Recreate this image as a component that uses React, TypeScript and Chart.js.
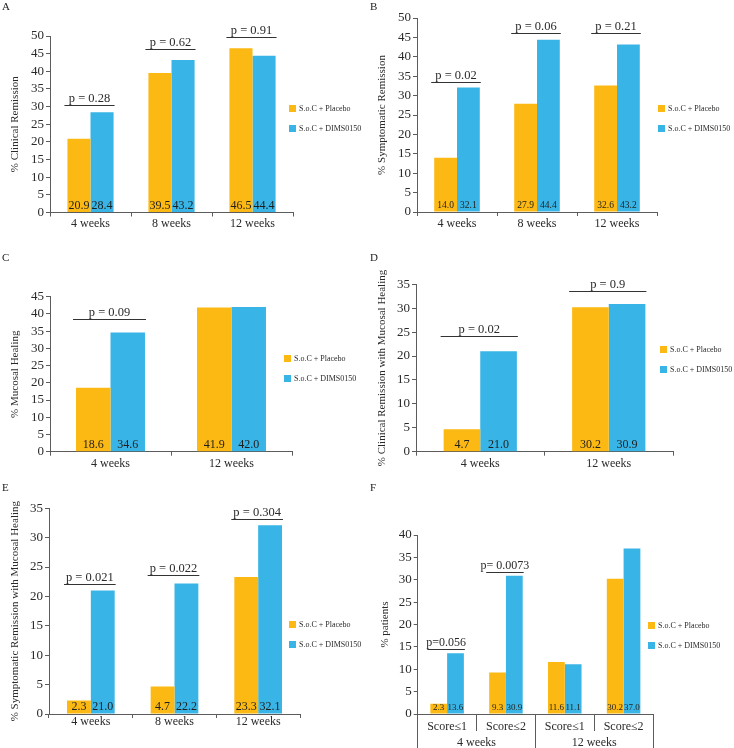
import React, { useEffect, useRef } from 'react';
import { Chart, registerables } from 'chart.js';

Chart.register(...registerables);

const FONT = "'Liberation Serif', 'Times New Roman', serif";
const ORANGE = '#FDB913';
const BLUE = '#38B5E6';
const AXIS = '#5c5c5c';
const TEXT = '#2a2a2a';

// ---------- data ----------
const seriesNames = ['S.o.C + Placebo', 'S.o.C + DIMS0150'];

const aCategories = ['4 weeks', '8 weeks', '12 weeks'];
const aPlacebo = [20.9, 39.5, 46.5];
const aDims = [28.4, 43.2, 44.4];
const aPValues = ['p = 0.28', 'p = 0.62', 'p = 0.91'];
const aPBracket = [30.5, 46.3, 49.7];

const bCategories = ['4 weeks', '8 weeks', '12 weeks'];
const bPlacebo = [14.0, 27.9, 32.6];
const bDims = [32.1, 44.4, 43.2];
const bPValues = ['p = 0.02', 'p = 0.06', 'p = 0.21'];
const bPBracket = [33.5, 46.1, 46.1];

const cCategories = ['4 weeks', '12 weeks'];
const cPlacebo = [18.6, 41.9];
const cDims = [34.6, 42.0];
const cPValues = ['p = 0.09', null];
const cPBracket = [38.4, null];

const dCategories = ['4 weeks', '12 weeks'];
const dPlacebo = [4.7, 30.2];
const dDims = [21.0, 30.9];
const dPValues = ['p = 0.02', 'p = 0.9'];
const dPBracket = [24.2, 33.5];

const eCategories = ['4 weeks', '8 weeks', '12 weeks'];
const ePlacebo = [2.3, 4.7, 23.3];
const eDims = [21.0, 22.2, 32.1];
const ePValues = ['p = 0.021', 'p = 0.022', 'p = 0.304'];
const ePBracket = [22.2, 23.65, 33.1];

const fCategories = ['Score≤1', 'Score≤2', 'Score≤1', 'Score≤2'];
const fGroups = ['4 weeks', '12 weeks'];
const fPlacebo = [2.3, 9.3, 11.6, 30.2];
const fDims = [13.6, 30.9, 11.1, 37.0];
const fPValues = ['p=0.056', 'p= 0.0073', null, null];
const fPBracket = [14.46, 31.7, null, null];

// ---------- layout ----------
type PanelCfg = {
  letter: string;
  canvas: number[];
  area: number[];
  yMax: number;
  yTitle: string;
  titlePad: number;
  categories: string[];
  groups?: string[];
  placebo: number[];
  dims: number[];
  pValues: (string | null)[];
  pBracket: (number | null)[];
  valueFont: number;
  pFont: number;
  legend: number[];
  letterPos: number[];
  xPad: number;
};

const panels: PanelCfg[] = [
  {
    letter: 'A', canvas: [0, 0, 367, 248], area: [50, 36, 293, 212.5], yMax: 50,
    yTitle: '% Clinical Remission', titlePad: 8.4, categories: aCategories,
    placebo: aPlacebo, dims: aDims, pValues: aPValues, pBracket: aPBracket,
    valueFont: 12, pFont: 12.5, legend: [289, 105], letterPos: [2, 2], xPad: 0,
  },
  {
    letter: 'B', canvas: [367, 0, 367, 248], area: [417, 18, 657, 212], yMax: 50,
    yTitle: '% Symptomatic Remission', titlePad: 8.4, categories: bCategories,
    placebo: bPlacebo, dims: bDims, pValues: bPValues, pBracket: bPBracket,
    valueFont: 9.5, pFont: 12.5, legend: [658, 105], letterPos: [370, 2], xPad: 1,
  },
  {
    letter: 'C', canvas: [0, 248, 367, 240], area: [50, 296.7, 292, 451.7], yMax: 45,
    yTitle: '% Mucosal Healing', titlePad: 8.4, categories: cCategories,
    placebo: cPlacebo, dims: cDims, pValues: cPValues, pBracket: cPBracket,
    valueFont: 12, pFont: 12.5, legend: [284, 355], letterPos: [2, 253], xPad: 1,
  },
  {
    letter: 'D', canvas: [367, 248, 367, 240], area: [416, 284.3, 673, 451.7], yMax: 35,
    yTitle: '% Clinical Remission with Mucosal Healing', titlePad: 8.4, categories: dCategories,
    placebo: dPlacebo, dims: dDims, pValues: dPValues, pBracket: dPBracket,
    valueFont: 12, pFont: 12.5, legend: [660, 346], letterPos: [370, 253], xPad: 1,
  },
  {
    letter: 'E', canvas: [0, 480, 367, 268], area: [49, 508.3, 300, 714], yMax: 35,
    yTitle: '% Symptomatic Remission with Mucosal Healing', titlePad: 8.4, categories: eCategories,
    placebo: ePlacebo, dims: eDims, pValues: ePValues, pBracket: ePBracket,
    valueFont: 12, pFont: 12.5, legend: [289, 621], letterPos: [2, 483], xPad: -3,
  },
  {
    letter: 'F', canvas: [367, 480, 367, 268], area: [417.7, 535, 653, 714], yMax: 40,
    yTitle: '% patients', titlePad: 11.4, categories: fCategories, groups: fGroups,
    placebo: fPlacebo, dims: fDims, pValues: fPValues, pBracket: fPBracket,
    valueFont: 9, pFont: 12, legend: [648, 622], letterPos: [370, 483], xPad: -11,
  },
];

function makeDecor(p: PanelCfg) {
  return {
    id: 'decor' + p.letter,
    afterDraw(chart: any) {
      const ctx = chart.ctx as CanvasRenderingContext2D;
      const [cl, ct] = p.canvas;
      const area = chart.chartArea;
      const yScale = chart.scales.y;
      const m0 = chart.getDatasetMeta(0);
      const m1 = chart.getDatasetMeta(1);
      ctx.save();
      // value labels
      ctx.fillStyle = '#1e1e1e';
      ctx.font = `${p.valueFont}px ${FONT}`;
      ctx.textAlign = 'center';
      ctx.textBaseline = 'alphabetic';
      [m0, m1].forEach((meta: any, di: number) => {
        const vals = di === 0 ? p.placebo : p.dims;
        meta.data.forEach((el: any, j: number) => {
          ctx.fillText(vals[j].toFixed(1), el.x, area.bottom - 4);
        });
      });
      // p-value brackets
      p.pValues.forEach((txt, j) => {
        const lvl = p.pBracket[j];
        if (!txt || lvl == null) return;
        const e0 = m0.data[j];
        const e1 = m1.data[j];
        const left = e0.x - e0.width / 2 - 3;
        const right = e1.x + e1.width / 2 + 1;
        const y = Math.round(yScale.getPixelForValue(lvl)) + 0.5;
        ctx.strokeStyle = '#333';
        ctx.lineWidth = 1;
        ctx.beginPath();
        ctx.moveTo(left, y);
        ctx.lineTo(right, y);
        ctx.stroke();
        ctx.fillStyle = TEXT;
        ctx.font = `${p.pFont}px ${FONT}`;
        ctx.textAlign = 'center';
        ctx.textBaseline = 'alphabetic';
        ctx.fillText(txt, (left + right) / 2, y - 4);
      });
      // legend
      const colors = [ORANGE, BLUE];
      ctx.font = `8px ${FONT}`;
      ctx.textAlign = 'left';
      ctx.textBaseline = 'middle';
      seriesNames.forEach((name, i) => {
        const lx = p.legend[0] - cl;
        const ly = p.legend[1] - ct + i * 20;
        ctx.fillStyle = colors[i];
        ctx.fillRect(lx, ly, 7, 7);
        ctx.fillStyle = TEXT;
        ctx.fillText(name, lx + 10, ly + 3.8);
      });
      // panel letter
      ctx.fillStyle = '#222';
      ctx.font = `11px ${FONT}`;
      ctx.textBaseline = 'top';
      ctx.fillText(p.letter, p.letterPos[0] - cl, p.letterPos[1] - ct);
      ctx.restore();
    },
  };
}

function Panel({ p }: { p: PanelCfg }) {
  const ref = useRef<HTMLCanvasElement>(null);
  useEffect(() => {
    const [cl, ct, cw, ch] = p.canvas;
    const [al, at, ar, ab] = p.area;
    const bottomSpace = ct + ch - ab;
    const grouped = !!p.groups;
    const subH = grouped ? 17 : bottomSpace;

    const scales: any = {
      x: {
        type: 'category',
        offset: true,
        weight: 0,
        grid: {
          offset: true, drawOnChartArea: false, drawTicks: true,
          tickLength: grouped ? 17 : 4, color: AXIS, lineWidth: 1,
        },
        border: { display: true, color: AXIS, width: 1 },
        ticks: {
          color: TEXT, font: { family: FONT, size: 12 }, padding: p.xPad,
          maxRotation: 0, minRotation: 0, autoSkip: false,
        },
        afterFit: (s: any) => { s.height = subH; },
      },
      y: {
        min: 0,
        max: p.yMax,
        ticks: {
          stepSize: 5, autoSkip: false, color: TEXT,
          font: { family: FONT, size: 13 }, padding: 2,
        },
        grid: { drawOnChartArea: false, drawTicks: true, tickLength: 4, color: AXIS },
        border: { display: true, color: AXIS, width: 1 },
        title: {
          display: true, text: p.yTitle, color: TEXT,
          font: { family: FONT, size: 11 }, padding: { top: p.titlePad, bottom: 0 },
        },
        afterFit: (s: any) => { s.width = al - cl; },
      },
    };
    if (grouped) {
      scales.x2 = {
        type: 'category',
        position: 'bottom',
        labels: p.groups,
        offset: true,
        weight: 1,
        grid: {
          offset: true, drawOnChartArea: false, drawTicks: true,
          tickLength: bottomSpace - subH, color: AXIS, lineWidth: 1,
        },
        border: { display: false },
        ticks: {
          color: TEXT, font: { family: FONT, size: 12 }, padding: -12,
          maxRotation: 0, minRotation: 0, autoSkip: false,
        },
        afterFit: (s: any) => { s.height = bottomSpace - subH; },
      };
    }

    const chart = new Chart(ref.current as HTMLCanvasElement, {
      type: 'bar',
      data: {
        labels: p.categories,
        datasets: [
          {
            label: seriesNames[0], data: p.placebo, backgroundColor: ORANGE,
            borderWidth: 0, categoryPercentage: 0.57, barPercentage: 1,
          },
          {
            label: seriesNames[1], data: p.dims, backgroundColor: BLUE,
            borderWidth: 0, categoryPercentage: 0.57, barPercentage: 1,
          },
        ],
      },
      options: {
        responsive: false,
        animation: false,
        devicePixelRatio: 1,
        layout: { padding: { left: 0, top: at - ct, right: cl + cw - ar, bottom: 0 } },
        plugins: { legend: { display: false }, tooltip: { enabled: false } },
        scales,
      },
      plugins: [makeDecor(p)],
    } as any);
    return () => chart.destroy();
  }, []);
  const [cl, ct, cw, ch] = p.canvas;
  return (
    <canvas
      ref={ref}
      width={cw}
      height={ch}
      style={{ position: 'absolute', left: cl, top: ct, width: cw, height: ch }}
    />
  );
}

export default function App() {
  return (
    <div style={{ position: 'absolute', left: 0, top: 0, width: 734, height: 748, background: '#fff', overflow: 'hidden' }}>
      {panels.map((p) => (
        <Panel key={p.letter} p={p} />
      ))}
    </div>
  );
}
